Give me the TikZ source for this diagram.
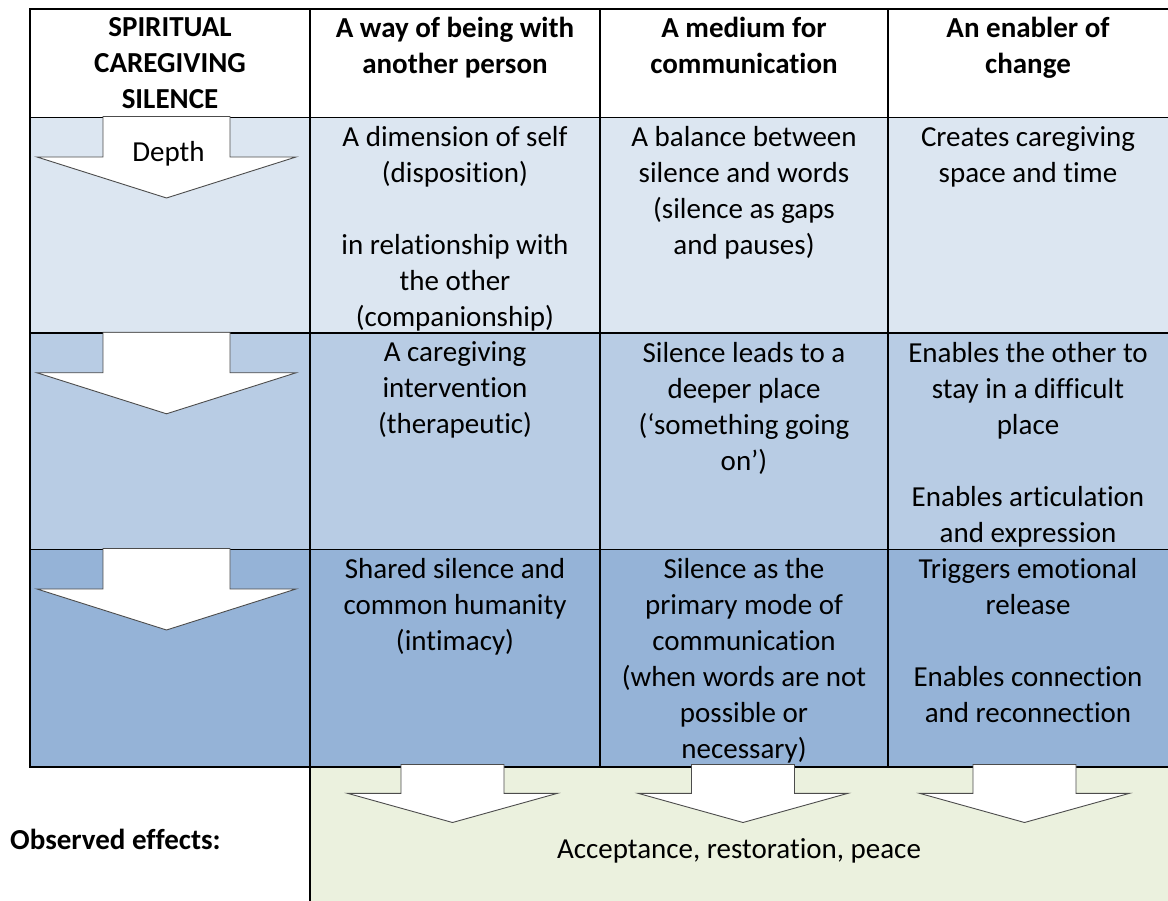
\documentclass[tikz,border=0pt]{standalone}
\usepackage{fontspec}
\setmainfont{Carlito}[Ligatures={NoCommon}]
\usepackage{tikz}
\definecolor{rowone}{HTML}{DCE6F1}
\definecolor{rowtwo}{HTML}{B8CCE4}
\definecolor{rowthree}{HTML}{95B3D7}
\definecolor{effects}{HTML}{EBF1DE}
\tikzstyle{cell} = [anchor=north, inner sep=0pt, align=center, font=\fontsize{29}{36}\selectfont]
\tikzstyle{headcell} = [cell, font=\fontsize{29}{36}\selectfont\bfseries]
\tikzstyle{tableline} = [line width=1.8pt]
\tikzstyle{bigarrow} = [draw=black!70, line width=0.9pt, fill=white]

\begin{document}
\begin{tikzpicture}[x=1pt, y=-1pt, line join=miter]
      \useasboundingbox (0,0) rectangle (1168,901);
      % shading of the rows
      \fill[rowone] (30,117.5) rectangle (1168,333.3);
      \fill[rowtwo] (30,333.3) rectangle (1168,549.5);
      \fill[rowthree] (30,549.5) rectangle (1168,767);
      \fill[effects] (310,767) rectangle (1168,901);
      % table lines
      \draw[tableline] (1168,9) -- (30,9) -- (30,767) -- (1168,767);
      \draw[tableline] (30,117.5) -- (1168,117.5);
      \draw[tableline] (30,333.3) -- (1168,333.3);
      \draw[tableline] (30,549.5) -- (1168,549.5);
      \draw[tableline] (310,9) -- (310,901);
      \draw[tableline] (600,9) -- (600,767);
      \draw[tableline] (888,9) -- (888,767);
      % depth arrows
      \draw[bigarrow] (103,116.5) -- (230,116.5) -- (230,157) -- (296,157) -- (166.5,198) -- (37,157) -- (103,157) -- cycle;
      \draw[bigarrow] (103,332.3) -- (230,332.3) -- (230,372.8) -- (296,372.8) -- (166.5,413.8) -- (37,372.8) -- (103,372.8) -- cycle;
      \draw[bigarrow] (103,548.5) -- (230,548.5) -- (230,589) -- (296,589) -- (166.5,630) -- (37,589) -- (103,589) -- cycle;
      % arrows into the effects
      \draw[bigarrow] (401,764.5) -- (504,764.5) -- (504,793.3) -- (557.5,793.3) -- (452.5,822.5) -- (347.5,793.3) -- (401,793.3) -- cycle;
      \draw[bigarrow] (691.5,764.5) -- (794.5,764.5) -- (794.5,793.3) -- (848,793.3) -- (743,822.5) -- (638,793.3) -- (691.5,793.3) -- cycle;
      \draw[bigarrow] (973,764.5) -- (1076,764.5) -- (1076,793.3) -- (1129.5,793.3) -- (1024.5,822.5) -- (919.5,793.3) -- (973,793.3) -- cycle;
      % header
      \node[headcell] (hspirit) at (170,17) {SPIRITUAL\\CAREGIVING\\SILENCE};
      \node[headcell] (hbeing) at (455,17) {A way of being with\\another person};
      \node[headcell] (hmedium) at (744,17) {A medium for\\communication};
      \node[headcell] (henabler) at (1028,17) {An enabler of\\change};
      \node[cell, anchor=base] (depth) at (168.5,162) {Depth};
      % first row
      \node[cell] (beingone) at (455,126) {A dimension of self\\(disposition)\\[36pt]in relationship with\\the other\\(companionship)};
      \node[cell] (mediumone) at (744,126) {A balance between\\silence and words\\(silence as gaps\\and pauses)};
      \node[cell] (enablerone) at (1028,126) {Creates caregiving\\space and time};
      % second row
      \node[cell] (beingtwo) at (455,341.8) {A caregiving\\intervention\\(therapeutic)};
      \node[cell] (mediumtwo) at (744,341.8) {Silence leads to a\\deeper place\\(‘something going\\on’)};
      \node[cell] (enablertwo) at (1028,341.8) {Enables the other to\\stay in a difficult\\place\\[36pt]Enables articulation\\and expression};
      % third row
      \node[cell] (beingthree) at (455,558) {Shared silence and\\common humanity\\(intimacy)};
      \node[cell] (mediumthree) at (744,558) {Silence as the\\primary mode of\\communication\\(when words are not\\possible or\\necessary)};
      \node[cell] (enablerthree) at (1028,558) {Triggers emotional\\release\\[36pt]Enables connection\\and reconnection};
      % effects
      \node[headcell, anchor=base west] (observed) at (10,849) {Observed effects:};
      \node[cell, anchor=base] (peace) at (739,858) {Acceptance, restoration, peace};
    \end{tikzpicture}
\end{document}
